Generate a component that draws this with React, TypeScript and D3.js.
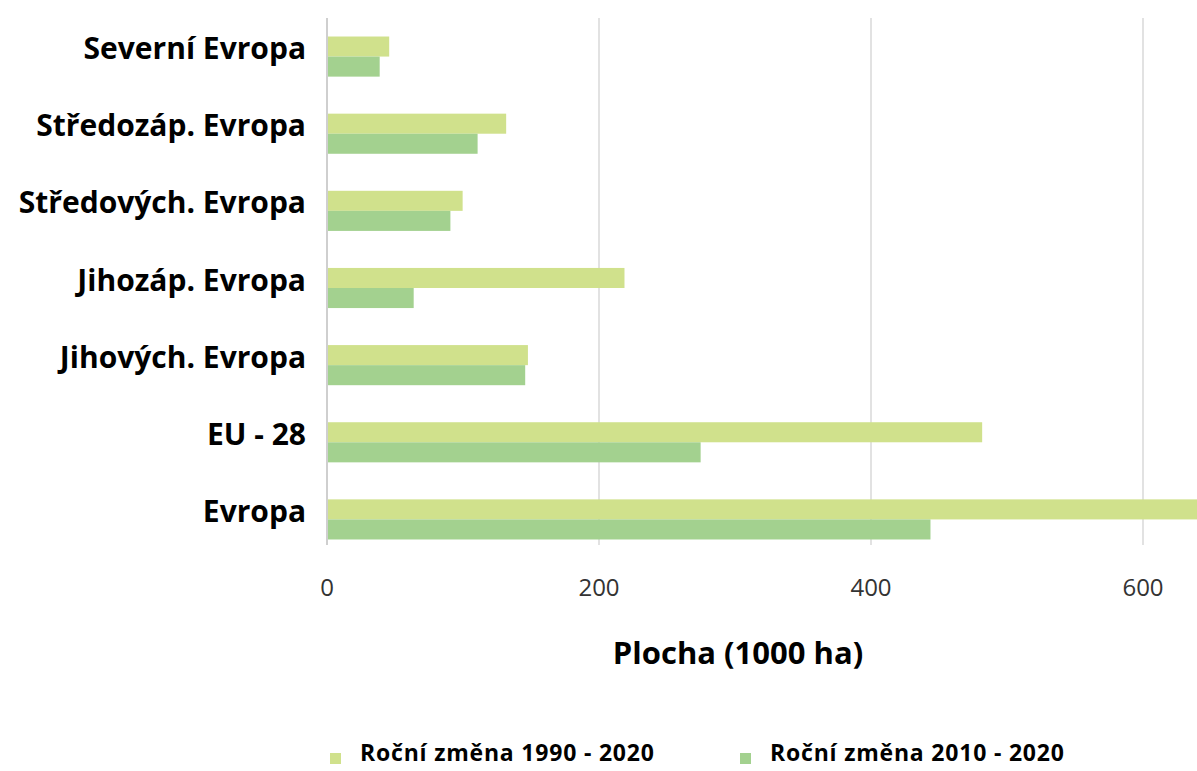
import React, { useEffect, useRef } from "react";
import * as d3 from "d3";

// data (1000 ha)
const categories = [
  "Severní Evropa",
  "Středozáp. Evropa",
  "Středových. Evropa",
  "Jihozáp. Evropa",
  "Jihových. Evropa",
  "EU - 28",
  "Evropa",
];
const change1990 = [45, 131, 99, 218, 147, 481, 650];
const change2010 = [38, 110, 90, 63, 145, 274, 443];
const seriesNames = ["Roční změna 1990 - 2020", "Roční změna 2010 - 2020"];
const xTicks = [0, 200, 400, 600];

const colors = ["#d0e18c", "#a3d18f"];

export default function App() {
  const ref = useRef<SVGSVGElement>(null);

  useEffect(() => {
    document.body.style.margin = "0";
    const W = 1197,
      H = 771;
    const margin = { top: 18, right: 0, bottom: 215, left: 327 };

    const svg = d3.select(ref.current);
    svg.selectAll("*").remove();
    svg.attr("width", W).attr("height", H);
    svg.append("rect").attr("width", W).attr("height", H).attr("fill", "#fff");

    const font = "'Open Sans', 'Noto Sans', sans-serif";

    const x = d3.scaleLinear().domain([0, 600]).range([margin.left, 1143]);
    const y = d3
      .scaleBand()
      .domain(categories)
      .range([margin.top, H - margin.bottom + 2])
      .paddingInner(0.48)
      .paddingOuter(0.24);
    const sub = d3.scaleBand().domain(["a", "b"]).range([0, y.bandwidth()]);

    // gridlines
    svg
      .selectAll(".grid")
      .data(xTicks)
      .join("line")
      .attr("class", "grid")
      .attr("x1", (d) => x(d))
      .attr("x2", (d) => x(d))
      .attr("y1", margin.top)
      .attr("y2", 545)
      .attr("stroke", (d) => (d === 0 ? "#bfbfbf" : "#d9d9d9"))
      .attr("stroke-width", 1.5);

    // bars
    const rows = categories.map((c, i) => ({ c, v: [change1990[i], change2010[i]] }));
    const g = svg
      .selectAll(".row")
      .data(rows)
      .join("g")
      .attr("class", "row")
      .attr("transform", (d) => `translate(0, ${y(d.c)})`);
    g.selectAll("rect")
      .data((d) => d.v.map((v, k) => ({ v, k })))
      .join("rect")
      .attr("x", x(0) + 1)
      .attr("y", (d) => sub(d.k === 0 ? "a" : "b")!)
      .attr("width", (d) => x(d.v) - x(0))
      .attr("height", sub.bandwidth())
      .attr("fill", (d) => colors[d.k]);

    // category labels
    svg
      .selectAll(".cat")
      .data(categories)
      .join("text")
      .attr("class", "cat")
      .attr("x", 306)
      .attr("y", (d) => y(d)! + y.bandwidth() / 2 - 8)
      .attr("dy", "0.35em")
      .attr("text-anchor", "end")
      .style("font-family", font)
      .style("font-weight", "bold")
      .style("font-size", "30px")
      .style("fill", "#000")
      .text((d) => d);

    // tick labels
    svg
      .selectAll(".tick")
      .data(xTicks)
      .join("text")
      .attr("class", "tick")
      .attr("x", (d) => x(d))
      .attr("y", 596)
      .attr("text-anchor", "middle")
      .style("font-family", font)
      .style("font-size", "24px")
      .style("fill", "#333")
      .text((d) => d);

    // axis title
    svg
      .append("text")
      .attr("x", 738)
      .attr("y", 664)
      .attr("text-anchor", "middle")
      .style("font-family", font)
      .style("font-weight", "bold")
      .style("font-size", "31px")
      .style("fill", "#000")
      .text("Plocha (1000 ha)");

    // legend
    const legendX = [330, 740];
    const lg = svg
      .selectAll(".legend")
      .data(seriesNames)
      .join("g")
      .attr("class", "legend")
      .attr("transform", (d, i) => `translate(${legendX[i]}, 753)`);
    lg.append("rect")
      .attr("x", 0)
      .attr("y", 0)
      .attr("width", 11)
      .attr("height", 11)
      .attr("fill", (d, i) => colors[i]);
    lg.append("text")
      .attr("x", 30)
      .attr("y", 0)
      .attr("dy", "0.35em")
      .style("font-family", font)
      .style("font-weight", "bold")
      .style("font-size", "23px")
      .style("letter-spacing", "0.8px")
      .style("fill", "#000")
      .text((d) => d);
  }, []);

  return <svg ref={ref} style={{ display: "block" }} />;
}
